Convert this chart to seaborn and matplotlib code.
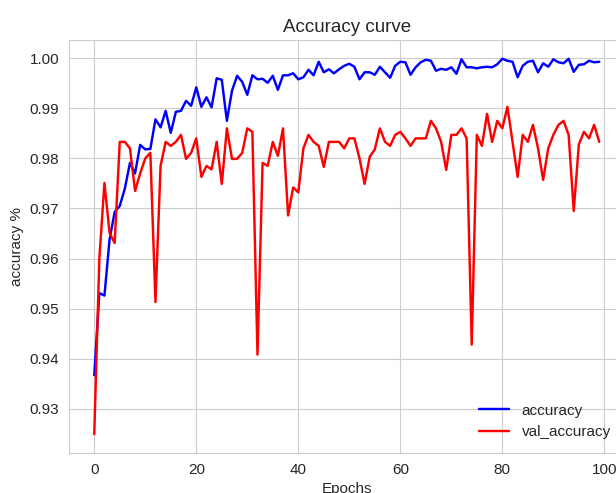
import matplotlib
matplotlib.use("Agg")
import matplotlib.pyplot as plt
import seaborn as sns
import pandas as pd

epochs = list(range(100))

accuracy = [
    0.9367, 0.9531, 0.9526, 0.9638, 0.9693, 0.9705, 0.9740, 0.9791, 0.9770, 0.9827,
    0.9818, 0.9819, 0.9878, 0.9862, 0.9895, 0.9851, 0.9893, 0.9895, 0.9915, 0.9905,
    0.9942, 0.9903, 0.9922, 0.9902, 0.9960, 0.9957, 0.9875, 0.9935, 0.9965, 0.9953,
    0.9927, 0.9966, 0.9958, 0.9959, 0.9951, 0.9965, 0.9937, 0.9966, 0.9966, 0.9970,
    0.9958, 0.9962, 0.9977, 0.9966, 0.9993, 0.9972, 0.9978, 0.9970, 0.9978, 0.9985,
    0.9989, 0.9983, 0.9958, 0.9972, 0.9972, 0.9967, 0.9983, 0.9972, 0.9961, 0.9985,
    0.9993, 0.9992, 0.9967, 0.9982, 0.9992, 0.9997, 0.9995, 0.9975, 0.9979, 0.9977,
    0.9982, 0.9969, 0.9998, 0.9982, 0.9982, 0.9980, 0.9982, 0.9983, 0.9982, 0.9988,
    0.9999, 0.9995, 0.9993, 0.9962, 0.9985, 0.9993, 0.9995, 0.9972, 0.9990, 0.9983,
    0.9998, 0.9992, 0.9990, 0.9999, 0.9973, 0.9987, 0.9988, 0.9995, 0.9992, 0.9993,
]

val_accuracy = [
    0.9249, 0.9600, 0.9751, 0.9651, 0.9631, 0.9833, 0.9833, 0.9820, 0.9735, 0.9770,
    0.9800, 0.9811, 0.9513, 0.9785, 0.9833, 0.9825, 0.9833, 0.9847, 0.9799, 0.9811,
    0.9840, 0.9763, 0.9785, 0.9778, 0.9833, 0.9749, 0.9860, 0.9799, 0.9799, 0.9811,
    0.9860, 0.9853, 0.9408, 0.9791, 0.9785, 0.9833, 0.9805, 0.9860, 0.9686, 0.9742,
    0.9732, 0.9820, 0.9847, 0.9833, 0.9825, 0.9783, 0.9833, 0.9833, 0.9833, 0.9820,
    0.9840, 0.9840, 0.9800, 0.9749, 0.9803, 0.9818, 0.9860, 0.9833, 0.9825, 0.9847,
    0.9853, 0.9840, 0.9825, 0.9840, 0.9840, 0.9840, 0.9875, 0.9860, 0.9833, 0.9777,
    0.9847, 0.9847, 0.9860, 0.9840, 0.9428, 0.9847, 0.9825, 0.9889, 0.9833, 0.9875,
    0.9860, 0.9903, 0.9833, 0.9763, 0.9847, 0.9833, 0.9867, 0.9820, 0.9757, 0.9820,
    0.9847, 0.9867, 0.9875, 0.9847, 0.9695, 0.9828, 0.9853, 0.9840, 0.9867, 0.9833,
]

series_names = ["accuracy", "val_accuracy"]
series_colors = {"accuracy": "blue", "val_accuracy": "red"}

df = pd.DataFrame({
    "epoch": epochs * 2,
    "value": accuracy + val_accuracy,
    "series": [series_names[0]] * len(epochs) + [series_names[1]] * len(epochs),
})

sns.set_style("whitegrid")
plt.rcParams["font.family"] = ["Liberation Sans", "DejaVu Sans"]

fig = plt.figure(figsize=(6.16, 4.93), dpi=100)
ax = fig.add_axes([69 / 616, 40 / 493, 555.5 / 616, 413 / 493])

sns.lineplot(data=df, x="epoch", y="value", hue="series",
             palette=series_colors, linewidth=1.75, ax=ax)

ax.set_title("Accuracy curve", fontsize=13.5, color=".15")
ax.set_xlabel("Epochs", fontsize=11, color=".15")
ax.set_ylabel("accuracy %", fontsize=11, color=".15")
ax.tick_params(labelsize=11, colors=".15")
ax.set_xticks([0, 20, 40, 60, 80, 100])
ax.legend(loc="lower right", frameon=False, fontsize=11, title=None)

fig.savefig("out.png", dpi=100)
